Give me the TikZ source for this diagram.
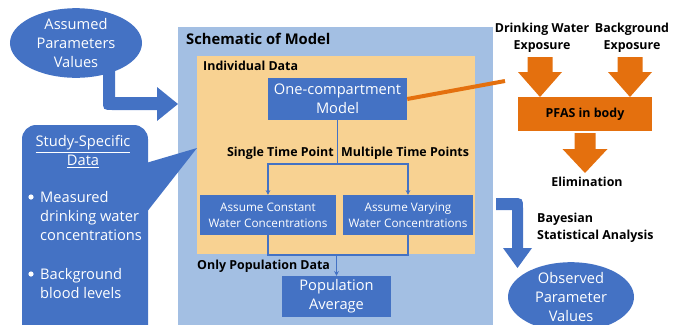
\documentclass[tikz,border=0pt]{standalone}
\usepackage{fontspec}
\setmainfont{Open Sans}
\usetikzlibrary{positioning,shapes.geometric,arrows.meta}

\definecolor{modelblue}{HTML}{4472C4}
\definecolor{schemablue}{HTML}{A3BFE3}
\definecolor{indivpeach}{HTML}{F8D292}
\definecolor{pfasorange}{HTML}{E4700E}

\newcommand{\fsbig}{\fontsize{12.5}{16.2}\selectfont}
\newcommand{\fssmall}{\fontsize{10}{13.6}\selectfont}
\newcommand{\fshead}{\fontsize{10.6}{14.5}\selectfont\bfseries}

\tikzset{
  modelbox/.style={fill=modelblue, text=white, align=center, inner sep=0pt},
  ovalbox/.style={ellipse, fill=modelblue, text=white, align=center, inner sep=0pt, font=\fsbig},
  headnote/.style={inner sep=0pt, align=center, font=\fshead},
  flow/.style={modelblue, line width=1.1pt},
}

\begin{document}
\begin{tikzpicture}[x=0.3mm,y=-0.3mm]
\useasboundingbox (0,0) rectangle (673,324);
\clip (0,0) rectangle (673,324);

% model frames
\fill[schemablue] (178,27) rectangle (493,340);
\fill[indivpeach] (197,56) rectangle (475,254);
\node[headnote, anchor=west, font=\fontsize{12.6}{14}\selectfont\bfseries] (schematic) at (186,39) {Schematic of Model};
\node[headnote, anchor=west] (individual) at (203,66) {Individual Data};

\node[modelbox, minimum width=41.7mm, minimum height=12.6mm, font=\fsbig] (onecomp) at (337.5,99) {One-compartment\\Model};
\node[modelbox, minimum width=40.8mm, minimum height=12mm, font=\fssmall] (const) at (268,215) {Assume Constant\\Water Concentrations};
\node[modelbox, minimum width=39mm, minimum height=12mm, font=\fssmall] (vary) at (408,215) {Assume Varying\\Water Concentrations};
\node[modelbox, minimum width=32.7mm, minimum height=12.3mm, font=\fsbig] (popavg) at (336.5,296.5) {Population\\Average};

\coordinate (split) at (337.5,164);
\coordinate (merge) at (336.5,255);
\draw[flow] (onecomp.south) -- (split);
\draw[flow,-{Stealth[length=4pt,width=4pt]}] (split) -| (const.north);
\draw[flow,-{Stealth[length=4pt,width=4pt]}] (split) -| (vary.north);
\draw[flow] (const.south) |- (merge);
\draw[flow] (vary.south) |- (merge);
\draw[flow,-{Stealth[length=4pt,width=4pt]}] (merge) -- (popavg.north);

\node[headnote, anchor=east] (single) at (334,153) {Single Time Point};
\node[headnote, anchor=west] (multiple) at (341,153) {Multiple Time Points};
\node[headnote, anchor=west] (onlypop) at (197,266) {Only Population Data};

% left side
\fill[modelblue] (103,70) -- (103,100) .. controls (103,110) .. (113,110) -- (157,110) -- (157,121)
  -- (178,104) -- (157,87) -- (157,97) -- (115,97) -- (115,70) -- cycle;
\node[ovalbox, minimum width=39.6mm, minimum height=19.5mm] (assumed) at (76,43) {Assumed\\Parameters\\Values};

\fill[modelblue, rounded corners=12] (22,345) -- (22,125) -- (148,125) -- (148,345) -- cycle;
\fill[modelblue] (146,163) -- (197,148) -- (146,213) -- cycle;
\node[inner sep=0pt, text=white, align=center, font=\fsbig] (studydata) at (83,152) {\underline{Study-Specific}\\\underline{Data}};
\foreach \y in {197,274}
  \fill[white] (31,\y) circle (2.6);
\node[inner sep=0pt, text=white, align=left, anchor=west, font=\fsbig] (measured) at (40,216) {Measured\\drinking water\\concentrations};
\node[inner sep=0pt, text=white, align=left, anchor=west, font=\fsbig] (bloodlvl) at (40,283.5) {Background\\blood levels};

% PFAS exposure
\coordinate (pfaslink) at (505,81);
\draw[pfasorange, line width=3.4pt] (onecomp.east) -- (pfaslink);
\node[headnote] (drinking) at (542,38) {Drinking Water\\Exposure};
\node[headnote] (background) at (632,38) {Background\\Exposure};
\foreach \x in {540,630}
  \fill[pfasorange] (\x-12.5,57) -- (\x+12.5,57) -- (\x+12.5,72) -- (\x+22,72) -- (\x,97) -- (\x-22,72) -- (\x-12.5,72) -- cycle;
\node[fill=pfasorange, minimum width=40.2mm, minimum height=10.2mm, inner sep=0pt, font=\fshead] (pfas) at (585,114) {PFAS in body};
\fill[pfasorange] (574.5,133) -- (595.5,133) -- (595.5,149) -- (607.5,149) -- (585,173) -- (562.5,149) -- (574.5,149) -- cycle;
\node[headnote] (elimination) at (587,182) {Elimination};

% right side
\fill[modelblue] (496,198) -- (512,198) .. controls (523,198) .. (523,209) -- (523,248) -- (532,248)
  -- (517.5,268) -- (503,248) -- (512,248) -- (512,210) -- (496,210) -- cycle;
\node[headnote, anchor=west, align=left] (bayes) at (537,227.5) {Bayesian\\Statistical Analysis};
\node[ovalbox, minimum width=37.8mm, minimum height=17.4mm] (observed) at (571,297) {Observed\\Parameter\\Values};
\end{tikzpicture}
\end{document}
